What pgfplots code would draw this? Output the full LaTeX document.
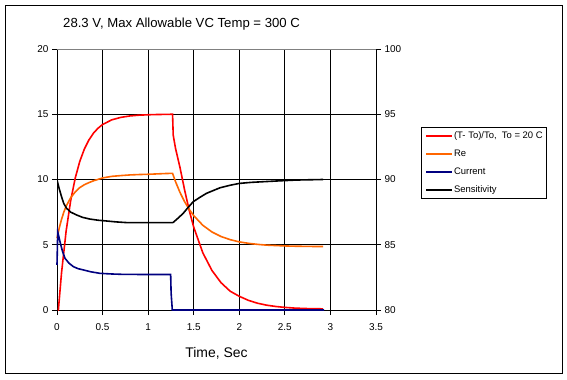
\documentclass[border=0pt]{standalone}
\usepackage{fontspec}
\setmainfont{Liberation Sans}
\usepackage{pgfplots}
\pgfplotsset{compat=1.18}
\definecolor{xlorange}{RGB}{255,102,0}
\definecolor{xlnavy}{RGB}{0,0,128}
\definecolor{xlgray}{RGB}{128,128,128}
\begin{document}
\begin{tikzpicture}[x=1bp,y=1bp]
\path[use as bounding box] (0,0) rectangle (567,379);
\draw[line width=1bp] (5.5,5.5) rectangle (562.5,373.5);
\node[anchor=west,inner sep=0pt,font=\fontsize{13.2}{15}\selectfont] at (63,355) {28.3 V, Max Allowable VC Temp = 300 C};
\begin{axis}[
  at={(57bp,69bp)}, anchor=south west, scale only axis,
  width=319bp, height=261bp,
  xmin=0, xmax=3.5, ymin=0, ymax=20,
  xtick={0,0.5,1,1.5,2,2.5,3,3.5},
  xticklabels={0,0.5,1,1.5,2,2.5,3,3.5},
  ytick={0,5,10,15,20},
  axis x line*=bottom, axis y line*=left,
  axis line style={black,line width=0.9bp,-},
  xmajorgrids, ymajorgrids,
  major grid style={black,line width=0.9bp},
  tick align=outside, major tick length=5bp,
  tick style={black,line width=0.9bp},
  /pgf/number format/assume math mode=true,
  ticklabel style={font=\fontsize{10}{12}\selectfont},
  x tick label style={yshift=-5bp},
  xlabel={Time, Sec},
  xlabel style={font=\fontsize{14}{16}\selectfont, at={(axis description cs:0.5,0)}, anchor=center, yshift=-43bp},
  clip=false,
  every axis plot/.append style={line width=1.6bp, mark=none},
]
\draw[xlgray,line width=0.9bp] (rel axis cs:0,1) -- (rel axis cs:1,1);
\addplot[red] coordinates {
(0.01,0)(0.015,0)(0.05,2.87)(0.1,6.04)(0.15,8.38)(0.2,10.11)(0.25,11.39)(0.3,12.33)(0.35,13.03)(0.4,13.55)(0.45,13.93)(0.5,14.21)(0.6,14.57)(0.7,14.76)(0.8,14.87)(0.9,14.93)(1.0,14.96)(1.1,14.98)(1.2,14.99)(1.268,15.0)(1.275,13.4)(1.3,12.4)(1.35,10.9)(1.4,9.2)(1.45,7.65)(1.5,6.35)(1.6,4.38)(1.7,3.03)(1.8,2.09)(1.9,1.44)(2.0,1.05)(2.1,0.74)(2.2,0.52)(2.3,0.37)(2.4,0.27)(2.5,0.2)(2.6,0.15)(2.7,0.12)(2.8,0.1)(2.92,0.09)
};
\addplot[xlorange] coordinates {
(0,5.5)(0.025,6.3)(0.05,6.95)(0.075,7.5)(0.1,7.95)(0.15,8.6)(0.2,9.05)(0.25,9.38)(0.3,9.6)(0.35,9.76)(0.4,9.9)(0.5,10.12)(0.6,10.24)(0.7,10.3)(0.8,10.35)(0.9,10.38)(1.0,10.4)(1.1,10.43)(1.2,10.46)(1.268,10.47)(1.3,9.84)(1.35,9.0)(1.4,8.3)(1.45,7.72)(1.5,7.23)(1.6,6.49)(1.7,5.98)(1.8,5.63)(1.9,5.39)(2.0,5.22)(2.1,5.11)(2.2,5.03)(2.3,4.97)(2.4,4.94)(2.5,4.91)(2.6,4.89)(2.7,4.88)(2.8,4.87)(2.92,4.87)
};
\addplot[xlnavy] coordinates {
(0,3.45)(0.008,6.0)(0.033,5.23)(0.06,4.5)(0.088,3.96)(0.13,3.6)(0.18,3.32)(0.23,3.17)(0.29,3.07)(0.37,2.93)(0.47,2.81)(0.6,2.76)(0.73,2.73)(1.0,2.72)(1.247,2.72)(1.252,1.3)(1.265,0)(2.93,0)
};
\end{axis}
\begin{axis}[
  at={(57bp,69bp)}, anchor=south west, scale only axis,
  width=319bp, height=261bp,
  xmin=0, xmax=3.5, ymin=80, ymax=100,
  axis x line=none, axis y line*=right,
  ytick={80,85,90,95,100},
  axis line style={black,line width=0.9bp,-},
  tick align=outside, major tick length=5bp,
  tick style={black,line width=0.9bp},
  /pgf/number format/assume math mode=true,
  ticklabel style={font=\fontsize{10}{12}\selectfont},
  every axis plot/.append style={line width=1.6bp, mark=none},
  legend cell align=left,
  legend image code/.code={\draw[#1] (0bp,0bp) -- (26bp,0bp);},
  legend style={at={(1.1411,0.7011)}, anchor=north west, draw=black, line width=0.9bp,
    font=\fontsize{9.5}{11}\selectfont, inner xsep=4bp, inner ysep=4bp, row sep=9bp,
    nodes={inner sep=0pt, text height=7bp, text depth=2bp},
    /tikz/every odd column/.append style={column sep=1bp}},
]
\addlegendimage{red,line width=1.6bp}
\addlegendentry{(T- To)/To,\ \ To = 20 C}
\addlegendimage{xlorange,line width=1.6bp}
\addlegendentry{Re}
\addlegendimage{xlnavy,line width=1.6bp}
\addlegendentry{Current}
\addplot[black] coordinates {
(0,89.96)(0.02,89.4)(0.05,88.68)(0.075,88.15)(0.106,87.79)(0.15,87.5)(0.216,87.28)(0.28,87.1)(0.36,86.97)(0.45,86.88)(0.545,86.82)(0.65,86.75)(0.76,86.7)(1.0,86.69)(1.268,86.69)(1.276,86.72)(1.33,87.05)(1.385,87.41)(1.44,87.87)(1.495,88.3)(1.56,88.6)(1.64,88.94)(1.72,89.17)(1.79,89.37)(1.9,89.56)(2.0,89.7)(2.13,89.78)(2.26,89.83)(2.45,89.9)(2.63,89.96)(2.92,90.0)
};
\addlegendentry{Sensitivity}
\end{axis}
\end{tikzpicture}
\end{document}
